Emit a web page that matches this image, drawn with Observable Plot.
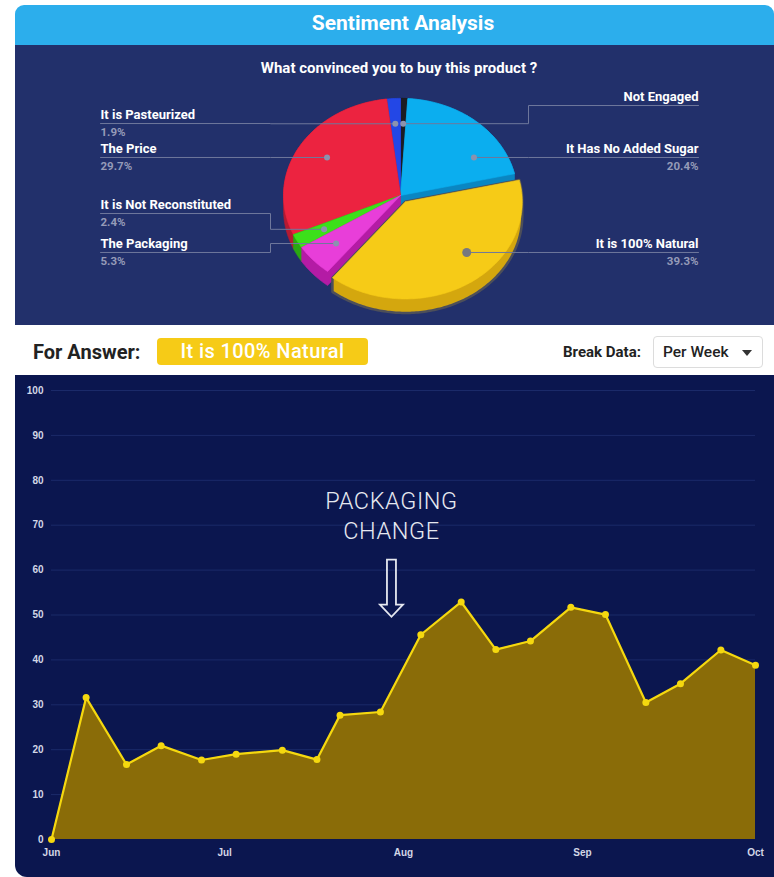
<!DOCTYPE html>
<html>
<head>
<meta charset="utf-8">
<script src="https://cdn.jsdelivr.net/npm/d3@7"></script>
<script src="https://cdn.jsdelivr.net/npm/@observablehq/plot@0.6"></script>
<style>
  html, body { margin:0; padding:0; width:774px; height:877px; overflow:hidden; background:#fff; }
  body { font-family: Roboto, "Liberation Sans", sans-serif; position:relative; }
  #card { position:absolute; left:15px; top:5px; width:759px; }
  #header { position:relative; height:40px; background:#2CAEEC; border-radius:9px 9px 0 0; }
  #title { position:absolute; left:388px; top:0; transform:translateX(-50%); line-height:36px; color:#fff; font-weight:700; font-size:21px; white-space:nowrap; }
  #pie { position:relative; height:280px; background:#22306B; }
  #subtitle { position:absolute; left:384px; top:14px; transform:translateX(-50%); line-height:18px; color:#fff; font-weight:700; font-size:15px; white-space:nowrap; }
  #pie svg { position:absolute; left:0; top:0; }
  #bar { position:relative; height:50px; background:#fff; }
  #forLabel { position:absolute; left:18px; top:15px; line-height:24px; font-size:20px; font-weight:700; color:#222; }
  #pill { position:absolute; left:142px; top:13px; width:211px; height:27px; background:#F6CB17; border-radius:4px; color:#fff; font-size:20px; font-weight:500; letter-spacing:0.4px; text-align:center; line-height:27px; }
  #breakLabel { position:absolute; left:548px; top:17px; line-height:20px; font-size:15px; font-weight:700; color:#222; }
  #select { position:absolute; left:638px; top:11px; width:110px; height:32px; border:1px solid #dcdcdc; border-radius:4px; background:#fff; box-sizing:border-box; }
  #selText { position:absolute; left:9px; top:6px; line-height:19px; font-size:15.5px; font-weight:500; color:#222; }
  #selArrow { position:absolute; left:88px; top:13px; width:0; height:0; border-left:5.5px solid transparent; border-right:5.5px solid transparent; border-top:6px solid #333; }
  #chart { position:relative; height:502px; background:#0B164F; border-radius:0 0 0 12px; overflow:hidden; }
</style>
</head>
<body>
<div id="card">
  <div id="header"><div id="title">Sentiment Analysis</div></div>
  <div id="pie"><div id="subtitle">What convinced you to buy this product ?</div></div>
  <div id="bar">
    <div id="forLabel">For Answer:</div>
    <div id="pill">It is 100% Natural</div>
    <div id="breakLabel">Break Data:</div>
    <div id="select"><div id="selText">Per Week</div><div id="selArrow"></div></div>
  </div>
  <div id="chart"></div>
</div>
<script>
// ---------- Pie data ----------
const answers = ["Not Engaged", "It Has No Added Sugar", "It is 100% Natural", "The Packaging", "It is Not Reconstituted", "The Price", "It is Pasteurized"];
const shares = [1.0, 20.4, 39.3, 5.3, 2.4, 29.7, 1.9];
const hiddenPercent = ["Not Engaged"];
const explodedAnswer = "It is 100% Natural";
const topColors = ["#1C1C22", "#0BAEEF", "#F6CB17", "#E83ED9", "#3CE01A", "#EC2340", "#2347E6"];
const sideColors = ["#101014", "#0A86C2", "#D4A70E", "#B41BA5", "#2AA811", "#B51A32", "#1A33A8"];

// ---------- Line chart data ----------
const weekDates = ["2023-06-01","2023-06-07","2023-06-14","2023-06-20","2023-06-27","2023-07-03","2023-07-11","2023-07-17","2023-07-21","2023-07-28","2023-08-04","2023-08-11","2023-08-17","2023-08-23","2023-08-30","2023-09-05","2023-09-12","2023-09-18","2023-09-25","2023-10-01"];
const naturalShare = [0, 31.6, 16.7, 20.9, 17.7, 19.0, 19.9, 17.8, 27.7, 28.4, 45.6, 52.9, 42.3, 44.2, 51.7, 50.1, 30.5, 34.7, 42.2, 38.8];
const monthTicks = ["2023-06-01","2023-07-01","2023-08-01","2023-09-01","2023-10-01"];
const yTicks = [0, 10, 20, 30, 40, 50, 60, 70, 80, 90, 100];
const annotationLines = ["PACKAGING", "CHANGE"];
const annotationDate = "2023-07-30";

// ---------- Pie layout ----------
const PX = 117, W = 759, H = 280, CX = 385, CY = 150;
const TILT = 0.83, DEPTH = 0.12, EXPLODE = 0.077, DOT_R = 0.74;
const labelX = {left: -2.564, right: 2.547};
const bendX = {left: -1.111, right: 1.094};
const labelLayout = {
  "Not Engaged": {side: "right", line: 0.769},
  "It Has No Added Sugar": {side: "right", line: 0.325},
  "It is 100% Natural": {side: "right", line: -0.487},
  "The Packaging": {side: "left", line: -0.487},
  "It is Not Reconstituted": {side: "left", line: -0.154},
  "The Price": {side: "left", line: 0.325},
  "It is Pasteurized": {side: "left", line: 0.615}
};

const total = d3.sum(shares);
let acc = 0;
const slices = answers.map((name, i) => {
  const a0 = acc / total * 2 * Math.PI; acc += shares[i];
  const a1 = acc / total * 2 * Math.PI;
  const mid = (a0 + a1) / 2;
  const off = name === explodedAnswer ? EXPLODE : 0;
  return {name, i, a0, a1, mid, ox: off * Math.sin(mid), oy: off * TILT * Math.cos(mid)};
});
const pt = (s, r, a, drop = 0) => [s.ox + r * Math.sin(a), s.oy + r * TILT * Math.cos(a) - drop];

const pieMarks = [];
const order = slices.slice().sort((a, b) => Math.cos(b.mid) - Math.cos(a.mid));
for (const s of order) {
  const n = Math.max(2, Math.ceil((s.a1 - s.a0) / (Math.PI / 180)));
  const arc = d3.range(n + 1).map(k => pt(s, 1, s.a0 + (s.a1 - s.a0) * k / n));
  const top = [[s.ox, s.oy], ...arc, [s.ox, s.oy]];
  const hull = d3.polygonHull([...top, ...top.map(p => [p[0], p[1] - DEPTH])]);
  hull.push(hull[0]);
  const isEx = s.name === explodedAnswer;
  pieMarks.push(Plot.line(hull, {x: d => d[0], y: d => d[1], fill: sideColors[s.i],
    stroke: isEx ? "#4d4f5a" : sideColors[s.i], strokeWidth: isEx ? 2.5 : 0.6}));
  pieMarks.push(Plot.line(top, {x: d => d[0], y: d => d[1], fill: topColors[s.i], stroke: topColors[s.i], strokeWidth: 0.6}));
}

// dot: on the label's row when that point lies near the middle of the slice, else at mid-angle
function dotFor(s, lineY) {
  const c = (lineY - s.oy) / (DOT_R * TILT);
  const half = (s.a1 - s.a0) / 2;
  if (Math.abs(c) <= 1) {
    const base = Math.acos(c);
    for (const a of [base, 2 * Math.PI - base]) {
      if (Math.abs(a - s.mid) <= 0.6 * half) return pt(s, DOT_R, a);
    }
  }
  return pt(s, DOT_R, s.mid);
}

const labels = slices.map(s => {
  const L = labelLayout[s.name];
  const dot = dotFor(s, L.line);
  return {
    name: s.name, side: L.side, line: L.line, dot,
    pct: hiddenPercent.includes(s.name) ? "" : shares[s.i].toFixed(1) + "%",
    big: s.name === explodedAnswer,
    path: [[labelX[L.side], L.line], [bendX[L.side], L.line], [bendX[L.side], dot[1]], dot]
  };
});
for (const l of labels) {
  pieMarks.push(Plot.line(l.path, {x: d => d[0], y: d => d[1], stroke: "#6F789C", strokeWidth: 1}));
}
pieMarks.push(Plot.dot(labels, {x: d => d.dot[0], y: d => d.dot[1], r: d => d.big ? 4 : 1.8, fill: d => d.big ? "#77787f" : "#8C92AE", stroke: "none"}));
for (const side of ["left", "right"]) {
  const rows = labels.filter(l => l.side === side);
  const anchor = side === "left" ? "start" : "end";
  pieMarks.push(Plot.text(rows, {x: () => labelX[side], y: "line", text: "name", dy: -8.5, textAnchor: anchor, fill: "#fff", fontWeight: "bold", fontSize: 13}));
  pieMarks.push(Plot.text(rows, {x: () => labelX[side], y: "line", text: "pct", dy: 9, textAnchor: anchor, fill: "#959BB8", fontWeight: "bold", fontSize: 11.5}));
}

const pieSvg = Plot.plot({
  width: W, height: H, margin: 0,
  x: {domain: [-CX / PX, (W - CX) / PX], axis: null},
  y: {domain: [-(H - CY) / PX, CY / PX], axis: null},
  style: {background: "transparent", fontFamily: "Roboto, 'Liberation Sans', sans-serif", overflow: "visible"},
  marks: pieMarks
});
document.getElementById("pie").appendChild(pieSvg);

// ---------- Line chart ----------
const series = weekDates.map((d, i) => ({date: new Date(d), value: naturalShare[i]}));
const annoDate = new Date(annotationDate);

function annotationMark(index, scales) {
  const x = scales.x(annoDate);
  const g = d3.create("svg:g");
  const yText = scales.y(75.3);
  annotationLines.forEach((t, k) => {
    g.append("text").attr("x", x).attr("y", yText + k * 30).attr("dy", "0.36em")
      .attr("text-anchor", "middle").attr("fill", "#E6E8F0")
      .style("font-family", "Roboto, Lato, sans-serif").style("font-weight", 300)
      .style("font-size", "23.5px").style("letter-spacing", "0.6px").text(t);
  });
  const yTop = scales.y(62.2), yHead = scales.y(52.2), yTip = scales.y(49.5);
  const sw = 4.5, hw = 11.5;
  const path = d3.path();
  path.moveTo(x - sw, yTop); path.lineTo(x + sw, yTop); path.lineTo(x + sw, yHead);
  path.lineTo(x + hw, yHead); path.lineTo(x, yTip); path.lineTo(x - hw, yHead);
  path.lineTo(x - sw, yHead); path.closePath();
  g.append("path").attr("d", path.toString()).attr("fill", "none").attr("stroke", "#E6E8F0").attr("stroke-width", 1.8).attr("stroke-linejoin", "miter");
  return g.node();
}

const chartSvg = Plot.plot({
  width: 759, height: 502,
  marginLeft: 36, marginRight: 19, marginTop: 15, marginBottom: 38,
  style: {background: "transparent", color: "#D3D7E6", fontFamily: "'Liberation Sans', Arial, sans-serif", fontSize: "10px", fontWeight: "bold", overflow: "visible"},
  x: {type: "utc", domain: [new Date(monthTicks[0]), new Date(monthTicks[monthTicks.length - 1])], ticks: monthTicks.map(d => new Date(d)), tickFormat: d3.utcFormat("%b"), tickSize: 0, tickPadding: 9, label: null},
  y: {domain: [0, 100], ticks: yTicks, tickSize: 0, tickPadding: 8, label: null},
  marks: [
    Plot.ruleY(yTicks.filter(d => d > 0), {stroke: "#1B2A69", strokeWidth: 1}),
    Plot.areaY(series, {x: "date", y: "value", fill: "#8A6C08"}),
    Plot.lineY(series, {x: "date", y: "value", stroke: "#F5D80F", strokeWidth: 2.2}),
    Plot.dot(series, {x: "date", y: "value", r: 3.5, fill: "#F5D80F", stroke: "none"}),
    annotationMark
  ]
});
document.getElementById("chart").appendChild(chartSvg);
</script>
</body>
</html>
